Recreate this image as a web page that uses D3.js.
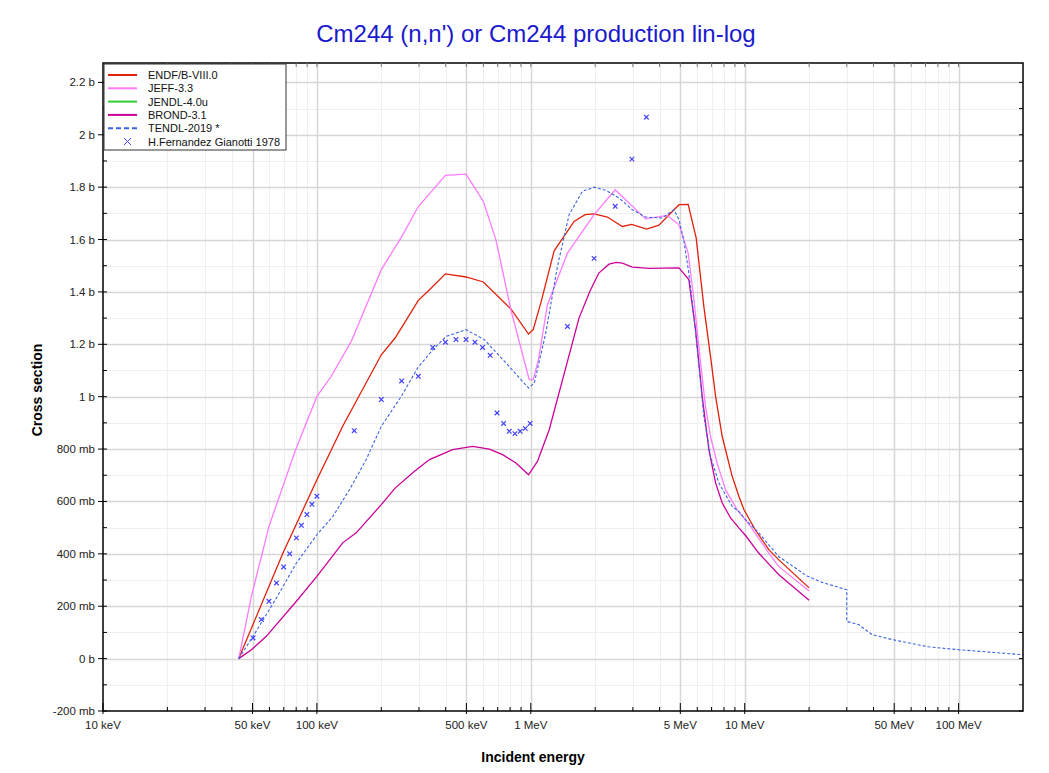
<!DOCTYPE html>
<html>
<head>
<meta charset="utf-8">
<script src="https://cdn.jsdelivr.net/npm/d3@7"></script>
<style>
  body { margin: 0; background: #fff; }
  svg { display: block; font-family: "Liberation Sans", Arial, sans-serif; }
</style>
</head>
<body>
<div class="chart"></div>
<script>
// energies in eV, cross sections in barns
const endfE = [43.1e3, 69.4e3, 100e3, 132e3, 200e3, 232e3, 298e3, 336e3, 399e3, 498e3, 600e3, 807e3, 976e3, 1.026e6, 1.114e6,
  1.286e6, 1.594e6, 1.794e6, 1.977e6, 2.28e6, 2.68e6, 2.96e6, 3.48e6, 3.97e6, 4.93e6, 5.44e6, 5.93e6, 6.44e6, 6.92e6,
  7.31e6, 7.85e6, 8.74e6, 9.39e6, 9.91e6, 11.2e6, 12.96e6, 14.4e6, 20e6];
const endfS = [0, 0.403, 0.683, 0.887, 1.160, 1.224, 1.368, 1.408, 1.469, 1.457, 1.438, 1.335, 1.239, 1.256, 1.358,
  1.557, 1.669, 1.695, 1.698, 1.686, 1.650, 1.658, 1.640, 1.655, 1.733, 1.734, 1.606, 1.345, 1.154,
  1.001, 0.848, 0.696, 0.620, 0.569, 0.492, 0.416, 0.378, 0.270];

const jeffE = [43.1e3, 49.4e3, 59.7e3, 79.6e3, 100e3, 116.7e3, 144.7e3, 200e3, 252e3, 298e3, 399e3, 498e3, 600e3, 687e3,
  807e3, 983e3, 1.026e6, 1.086e6, 1.196e6, 1.484e6, 1.68e6, 1.977e6, 2.48e6, 3.44e6, 4.35e6, 4.93e6, 5.44e6, 5.79e6,
  6.22e6, 6.56e6, 6.92e6, 7.43e6, 8.13e6, 9.21e6, 10.64e6, 12.96e6, 14.4e6, 20e6];
const jeffS = [0, 0.238, 0.505, 0.798, 1.001, 1.078, 1.211, 1.485, 1.618, 1.726, 1.845, 1.850, 1.746, 1.599,
  1.332, 1.065, 1.065, 1.141, 1.351, 1.548, 1.612, 1.695, 1.790, 1.679, 1.692, 1.656, 1.548, 1.370,
  1.129, 0.963, 0.848, 0.747, 0.645, 0.569, 0.505, 0.403, 0.352, 0.258];

const brondE = [43.1e3, 49.4e3, 58e3, 80.2e3, 100e3, 132e3, 152.7e3, 200e3, 232e3, 286e3, 336e3, 431e3, 535e3, 640e3,
  738e3, 852e3, 976e3, 1.074e6, 1.219e6, 1.68e6, 1.887e6, 2.08e6, 2.32e6, 2.51e6, 2.68e6, 2.98e6, 3.57e6, 4.93e6,
  5.48e6, 5.89e6, 6.33e6, 6.8e6, 7.31e6, 7.85e6, 8.59e6, 9.39e6, 10.09e6, 11.63e6, 14.4e6, 20e6];
const brondS = [0, 0.034, 0.085, 0.219, 0.314, 0.442, 0.480, 0.588, 0.651, 0.715, 0.760, 0.798, 0.810, 0.800,
  0.779, 0.747, 0.702, 0.753, 0.874, 1.300, 1.402, 1.472, 1.506, 1.513, 1.510, 1.495, 1.490, 1.492,
  1.447, 1.256, 1.001, 0.798, 0.671, 0.594, 0.537, 0.499, 0.470, 0.403, 0.321, 0.223];

const tendlE = [43.1e3, 50.3e3, 64.7e3, 80.2e3, 100e3, 118.8e3, 142e3, 170e3, 200e3, 248e3, 296e3, 348e3, 402e3, 498e3,
  606e3, 765e3, 976e3, 1.038e6, 1.175e6, 1.332e6, 1.51e6, 1.742e6, 1.977e6, 2.24e6, 2.59e6, 2.98e6, 3.44e6, 4.12e6,
  4.67e6, 4.93e6, 5.2e6, 5.48e6, 5.79e6, 6.11e6, 6.44e6, 6.92e6, 7.57e6, 8.74e6, 9.39e6, 10.09e6, 11.63e6, 14.4e6,
  19.7e6, 23e6, 30e6, 30e6, 34.1e6, 39.3e6, 48.7e6, 72.3e6, 100e6, 200e6];
const tendlS = [0, 0.085, 0.232, 0.365, 0.473, 0.543, 0.645, 0.760, 0.887, 1.001, 1.110, 1.179, 1.230, 1.256,
  1.218, 1.129, 1.033, 1.052, 1.243, 1.497, 1.695, 1.784, 1.800, 1.788, 1.758, 1.714, 1.686, 1.682,
  1.714, 1.676, 1.593, 1.472, 1.306, 1.116, 0.925, 0.772, 0.671, 0.581, 0.562, 0.531, 0.480, 0.390,
  0.314, 0.291, 0.263, 0.142, 0.130, 0.092, 0.073, 0.045, 0.034, 0.015];

const expE = [50.3e3, 55.0e3, 59.7e3, 64.7e3, 69.9e3, 74.6e3, 80.2e3, 84.6e3, 89.8e3, 94.8e3, 100e3, 149.5e3, 200e3,
  249e3, 298e3, 348e3, 399e3, 447e3, 498e3, 548e3, 595e3, 646e3, 695e3, 746e3, 793e3, 843e3, 892e3, 942e3, 993e3,
  1.484e6, 1.977e6, 2.48e6, 2.97e6, 3.47e6];
const expS = [0.079, 0.149, 0.219, 0.289, 0.350, 0.400, 0.461, 0.509, 0.550, 0.589, 0.620, 0.870, 0.989,
  1.060, 1.078, 1.188, 1.208, 1.218, 1.218, 1.208, 1.188, 1.158, 0.938, 0.898, 0.868, 0.859, 0.868, 0.879, 0.898,
  1.268, 1.528, 1.727, 1.907, 2.067];

const xTickValues = [1e4, 5e4, 1e5, 5e5, 1e6, 5e6, 1e7, 5e7, 1e8];
const xTickLabels = ['10 keV', '50 keV', '100 keV', '500 keV', '1 MeV', '5 MeV', '10 MeV', '50 MeV', '100 MeV'];
const yTickValues = [-0.2, 0, 0.2, 0.4, 0.6, 0.8, 1, 1.2, 1.4, 1.6, 1.8, 2, 2.2];
const yTickLabels = ['-200 mb', '0 b', '200 mb', '400 mb', '600 mb', '800 mb', '1 b', '1.2 b', '1.4 b', '1.6 b', '1.8 b', '2 b', '2.2 b'];

const series = [
  { name: 'ENDF/B-VIII.0', color: '#e0200a', e: endfE, s: endfS },
  { name: 'JEFF-3.3', color: '#ff7cff', e: jeffE, s: jeffS },
  { name: 'JENDL-4.0u', color: '#33cc33', e: [], s: [] },
  { name: 'BROND-3.1', color: '#cc0099', e: brondE, s: brondS },
  { name: 'TENDL-2019 *', color: '#3b64e0', e: tendlE, s: tendlS, dash: '3,2' }
];

const W = 1049, H = 773;
const m = { left: 103, right: 1023, top: 63, bottom: 711 };

const svg = d3.select('.chart').append('svg')
  .attr('width', W).attr('height', H);

const x = d3.scaleLog().domain([1e4, 2e8]).range([m.left, m.right]);
const y = d3.scaleLinear().domain([-0.2, 2.274]).range([m.bottom, m.top]);

// minor log ticks 1..9 per decade
const minorX = [];
for (let d = 1e4; d < 2e8; d *= 10) {
  for (let k = 1; k < 10; k++) {
    const v = d * k;
    if (v > 1e4 && v < 2e8 && xTickValues.indexOf(v) < 0) minorX.push(v);
  }
}
const minorY = d3.range(-0.1, 2.25, 0.2).map(v => +v.toFixed(2));

const grid = svg.append('g');
grid.selectAll('.gxm').data(minorX).enter().append('line')
  .attr('x1', d => Math.round(x(d)) + 0.5).attr('x2', d => Math.round(x(d)) + 0.5)
  .attr('y1', m.top).attr('y2', m.bottom)
  .attr('stroke', '#efefef').attr('stroke-width', 1);
grid.selectAll('.gym').data(minorY).enter().append('line')
  .attr('x1', m.left).attr('x2', m.right)
  .attr('y1', d => Math.round(y(d)) + 0.5).attr('y2', d => Math.round(y(d)) + 0.5)
  .attr('stroke', '#efefef').attr('stroke-width', 1);
grid.selectAll('.gx').data(xTickValues.slice(1)).enter().append('line')
  .attr('x1', d => Math.round(x(d)) + 0.5).attr('x2', d => Math.round(x(d)) + 0.5)
  .attr('y1', m.top).attr('y2', m.bottom)
  .attr('stroke', '#d6d6d6').attr('stroke-width', 1.5);
grid.selectAll('.gy').data(yTickValues.slice(1)).enter().append('line')
  .attr('x1', m.left).attr('x2', m.right)
  .attr('y1', d => Math.round(y(d)) + 0.5).attr('y2', d => Math.round(y(d)) + 0.5)
  .attr('stroke', '#d6d6d6').attr('stroke-width', 1.5);

// curves
const line = d3.line()
  .x(d => x(d[0]))
  .y(d => y(d[1]));

const plot = svg.append('g');
series.forEach(sr => {
  if (!sr.e.length) return;
  plot.append('path')
    .datum(sr.e.map((e, i) => [e, sr.s[i]]))
    .attr('d', line)
    .attr('fill', 'none')
    .attr('stroke', sr.color)
    .attr('stroke-width', sr.dash ? 1.1 : 1.3)
    .attr('stroke-dasharray', sr.dash || null);
});

// experimental points
plot.selectAll('.pt').data(expE.map((e, i) => [e, expS[i]])).enter().append('path')
  .attr('d', d => {
    const px = x(d[0]), py = y(d[1]), r = 2.3;
    return `M${px - r},${py - r}L${px + r},${py + r}M${px - r},${py + r}L${px + r},${py - r}`;
  })
  .attr('stroke', '#4040ff').attr('stroke-width', 1.2).attr('fill', 'none');

// frame
svg.append('rect')
  .attr('x', m.left).attr('y', m.top)
  .attr('width', m.right - m.left).attr('height', m.bottom - m.top)
  .attr('fill', 'none').attr('stroke', '#000').attr('stroke-width', 1.5);

// x axis ticks
const ax = svg.append('g').attr('stroke', '#000');
ax.selectAll('.xt').data(xTickValues).enter().append('line')
  .attr('x1', d => x(d)).attr('x2', d => x(d))
  .attr('y1', m.bottom + 3).attr('y2', m.bottom - 8).attr('stroke-width', 1);
ax.selectAll('.xtm').data(minorX).enter().append('line')
  .attr('x1', d => x(d)).attr('x2', d => x(d))
  .attr('y1', m.bottom).attr('y2', m.bottom - 4).attr('stroke-width', 1);
ax.selectAll('.xtt').data(xTickValues.slice(1).concat(minorX)).enter().append('line')
  .attr('x1', d => x(d)).attr('x2', d => x(d))
  .attr('y1', m.top).attr('y2', m.top + 4).attr('stroke', '#777').attr('stroke-width', 1);

// y axis ticks
ax.selectAll('.yt').data(yTickValues).enter().append('line')
  .attr('x1', m.left - 5).attr('x2', m.left + 4)
  .attr('y1', d => y(d)).attr('y2', d => y(d)).attr('stroke-width', 1);
ax.selectAll('.ytm').data(minorY).enter().append('line')
  .attr('x1', m.left).attr('x2', m.left + 4)
  .attr('y1', d => y(d)).attr('y2', d => y(d)).attr('stroke-width', 1);
ax.selectAll('.ytr').data(yTickValues.concat(minorY)).enter().append('line')
  .attr('x1', m.right - 4).attr('x2', m.right)
  .attr('y1', d => y(d)).attr('y2', d => y(d)).attr('stroke-width', 1);

// tick labels
svg.append('g').selectAll('text').data(xTickValues).enter().append('text')
  .attr('x', d => x(d)).attr('y', m.bottom + 18)
  .attr('text-anchor', 'middle').attr('font-size', 11.5).attr('fill', '#222')
  .text((d, i) => xTickLabels[i]);
svg.append('g').selectAll('text').data(yTickValues).enter().append('text')
  .attr('x', m.left - 8).attr('y', d => y(d) + 4)
  .attr('text-anchor', 'end').attr('font-size', 11.5).attr('fill', '#222')
  .text((d, i) => yTickLabels[i]);

// titles
svg.append('text')
  .attr('x', 536).attr('y', 42)
  .attr('text-anchor', 'middle').attr('font-size', 24).attr('fill', '#1a1acc')
  .text("Cm244 (n,n') or Cm244 production lin-log");
svg.append('text')
  .attr('x', 533).attr('y', 762)
  .attr('text-anchor', 'middle').attr('font-size', 14).attr('font-weight', 'bold')
  .text('Incident energy');
svg.append('text')
  .attr('transform', 'translate(42,390) rotate(-90)')
  .attr('text-anchor', 'middle').attr('font-size', 14).attr('font-weight', 'bold')
  .text('Cross section');

// legend
const lg = svg.append('g').attr('transform', 'translate(104,64)');
lg.append('rect')
  .attr('width', 182).attr('height', 86)
  .attr('fill', '#fff').attr('stroke', '#333').attr('stroke-width', 1);
const rows = series.concat([{ name: 'H.Fernandez Gianotti 1978', color: '#4040ff', marker: true }]);
rows.forEach((r, i) => {
  const ry = 11 + i * 13.3;
  if (r.marker) {
    lg.append('path')
      .attr('d', `M20,${ry - 3.5}L27,${ry + 3.5}M20,${ry + 3.5}L27,${ry - 3.5}`)
      .attr('stroke', r.color).attr('stroke-width', 1);
  } else {
    lg.append('line')
      .attr('x1', 4).attr('x2', 33).attr('y1', ry).attr('y2', ry)
      .attr('stroke', r.color).attr('stroke-width', 2)
      .attr('stroke-dasharray', r.dash ? '5,3' : null);
  }
  lg.append('text')
    .attr('x', 44).attr('y', ry + 4)
    .attr('font-size', 11).attr('fill', '#111')
    .text(r.name);
});
</script>
</body>
</html>
